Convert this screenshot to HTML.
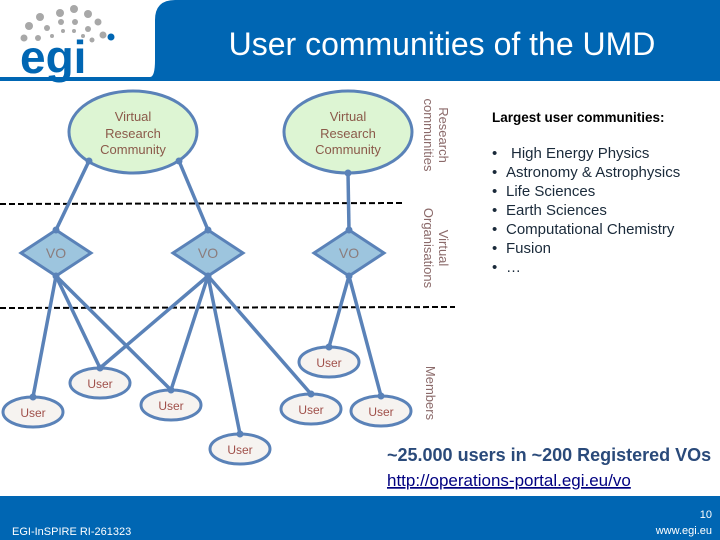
<!DOCTYPE html>
<html><head><meta charset="utf-8"><style>
body{margin:0;width:720px;height:540px;overflow:hidden;background:#fff;font-family:"Liberation Sans",sans-serif}
</style></head><body>
<svg width="720" height="540" xmlns="http://www.w3.org/2000/svg" style="position:absolute;left:0;top:0" font-family="Liberation Sans, sans-serif">
<path d="M175,0 H720 V81 H0 V77 H150 Q155,77 155,60 V20 Q155,0 175,0 Z" fill="#0066b3"/>
<text x="442" y="55" font-size="32" fill="#fff" text-anchor="middle">User communities of the UMD</text>
<g fill="#a8a8a8">
<circle cx="60" cy="13" r="4"/><circle cx="74" cy="9" r="4"/><circle cx="88" cy="14" r="4"/>
<circle cx="40" cy="17" r="4"/><circle cx="98" cy="22" r="3.5"/><circle cx="103" cy="35" r="3.5"/>
<circle cx="29" cy="26" r="4"/><circle cx="24" cy="38" r="3.5"/>
<circle cx="47" cy="28" r="3"/><circle cx="61" cy="22" r="3"/><circle cx="75" cy="22" r="3"/><circle cx="88" cy="29" r="3"/>
<circle cx="38" cy="38" r="3"/><circle cx="92" cy="40" r="2.5"/>
<circle cx="52" cy="36" r="2"/><circle cx="63" cy="31" r="2"/><circle cx="74" cy="31" r="2"/><circle cx="83" cy="36" r="2"/>
</g>
<circle cx="111" cy="37" r="3.5" fill="#0066b3"/>
<text x="20" y="73" font-size="46" font-weight="bold" fill="#0066b3">egi</text>
<line x1="0" y1="204" x2="405" y2="203" stroke="#000" stroke-width="2" stroke-dasharray="6,3"/>
<line x1="0" y1="308" x2="455" y2="307" stroke="#000" stroke-width="2" stroke-dasharray="6,3"/>
<g stroke="#5a82b8" stroke-width="3.5" fill="none">
<line x1="89" y1="161" x2="56" y2="230"/>
<line x1="179" y1="161" x2="208" y2="230"/>
<line x1="348" y1="173" x2="349" y2="230"/>
<line x1="56" y1="276" x2="33" y2="397"/>
<line x1="56" y1="276" x2="100" y2="368"/>
<line x1="56" y1="276" x2="171" y2="390"/>
<line x1="208" y1="276" x2="100" y2="368"/>
<line x1="208" y1="276" x2="171" y2="390"/>
<line x1="208" y1="276" x2="240" y2="434"/>
<line x1="208" y1="276" x2="311" y2="394"/>
<line x1="349" y1="276" x2="329" y2="347"/>
<line x1="349" y1="276" x2="381" y2="396"/>
</g>
<g stroke="#5a82b8" stroke-width="3" fill="#ddf5d3">
<ellipse cx="133" cy="132" rx="64" ry="41"/>
<ellipse cx="348" cy="132" rx="64" ry="41"/>
</g>
<g font-size="13" fill="#8b5a4a" text-anchor="middle">
<text x="133" y="121">Virtual</text><text x="133" y="138">Research</text><text x="133" y="154">Community</text>
<text x="348" y="121">Virtual</text><text x="348" y="138">Research</text><text x="348" y="154">Community</text>
</g>
<g stroke="#5a82b8" stroke-width="3" fill="#9dc5de">
<polygon points="56,230 91,253 56,276 21,253"/>
<polygon points="208,230 243,253 208,276 173,253"/>
<polygon points="349,230 384,253 349,276 314,253"/>
</g>
<g font-size="14" fill="#8b7d7d" text-anchor="middle">
<text x="56" y="258">VO</text><text x="208" y="258">VO</text><text x="349" y="258">VO</text>
</g>
<g stroke="#5a82b8" stroke-width="3" fill="#f6f3f0">
<ellipse cx="33" cy="412" rx="30" ry="15"/>
<ellipse cx="100" cy="383" rx="30" ry="15"/>
<ellipse cx="171" cy="405" rx="30" ry="15"/>
<ellipse cx="240" cy="449" rx="30" ry="15"/>
<ellipse cx="311" cy="409" rx="30" ry="15"/>
<ellipse cx="329" cy="362" rx="30" ry="15"/>
<ellipse cx="381" cy="411" rx="30" ry="15"/>
</g>
<g font-size="12" fill="#a0504a" text-anchor="middle">
<text x="33" y="417">User</text><text x="100" y="388">User</text><text x="171" y="410">User</text>
<text x="240" y="454">User</text><text x="311" y="414">User</text><text x="329" y="367">User</text><text x="381" y="416">User</text>
</g>
<g fill="#5a82b8">
<circle cx="89" cy="161" r="3.5"/><circle cx="179" cy="161" r="3.5"/><circle cx="348" cy="173" r="3.5"/>
<circle cx="56" cy="230" r="3.5"/><circle cx="208" cy="230" r="3.5"/><circle cx="349" cy="230" r="3.5"/>
<circle cx="56" cy="276" r="3.5"/><circle cx="208" cy="276" r="3.5"/><circle cx="349" cy="276" r="3.5"/>
<circle cx="33" cy="397" r="3.5"/><circle cx="100" cy="368" r="3.5"/><circle cx="171" cy="390" r="3.5"/>
<circle cx="240" cy="434" r="3.5"/><circle cx="311" cy="394" r="3.5"/><circle cx="329" cy="347" r="3.5"/><circle cx="381" cy="396" r="3.5"/>
</g>
<g font-size="13" fill="#8b6a6a" text-anchor="middle">
<text transform="translate(439,135) rotate(90)">Research</text>
<text transform="translate(424,135) rotate(90)">communities</text>
<text transform="translate(439,248) rotate(90)">Virtual</text>
<text transform="translate(424,248) rotate(90)">Organisations</text>
<text transform="translate(426,393) rotate(90)">Members</text>
</g>
<text x="492" y="122" font-size="13.5" font-weight="bold" fill="#000">Largest user communities:</text>
<g font-size="15" fill="#1a2a3a">
<text x="492" y="158">•</text><text x="511" y="158">High Energy Physics</text>
<text x="492" y="177">•</text><text x="506" y="177">Astronomy &amp; Astrophysics</text>
<text x="492" y="196">•</text><text x="506" y="196">Life Sciences</text>
<text x="492" y="215">•</text><text x="506" y="215">Earth Sciences</text>
<text x="492" y="234">•</text><text x="506" y="234">Computational Chemistry</text>
<text x="492" y="253">•</text><text x="506" y="253">Fusion</text>
<text x="492" y="272">•</text><text x="506" y="272">…</text>
</g>
<text x="387" y="461" font-size="18" font-weight="bold" fill="#2a4a7a">~25.000 users in ~200 Registered VOs</text>
<text x="387" y="486" font-size="17" fill="#000080" text-decoration="underline">http://operations-portal.egi.eu/vo</text>
<rect x="0" y="496" width="720" height="44" fill="#0066b3"/>
<text x="12" y="535" font-size="11" fill="#fff">EGI-InSPIRE RI-261323</text>
<text x="712" y="518" font-size="11" fill="#fff" text-anchor="end">10</text>
<text x="712" y="534" font-size="11" fill="#fff" text-anchor="end">www.egi.eu</text>
</svg>
</body></html>
